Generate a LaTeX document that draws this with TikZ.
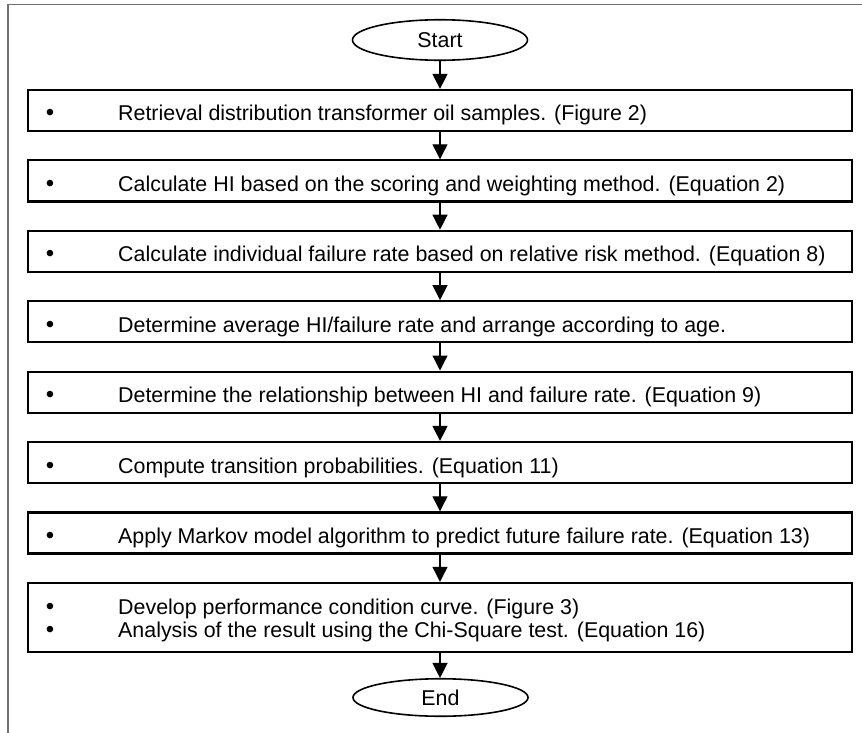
\documentclass[tikz,border=0pt]{standalone}
\usepackage{fontspec}
\setmainfont{Liberation Sans}
\usetikzlibrary{arrows.meta,shapes.geometric}
\definecolor{framegray}{RGB}{112,112,112}
\begin{document}
\begin{tikzpicture}[x=1pt,y=-1pt,
  stepbox/.style={draw, line width=2.2pt, minimum width=824pt, minimum height=41pt, inner sep=0pt},
  terminal/.style={draw, ellipse, line width=1.6pt, minimum width=175pt, inner sep=0pt, font=\fontsize{21.4}{23}\selectfont},
  flow/.style={line width=1.2pt, -{Triangle[length=15pt,width=15pt]}},
  txt/.style={anchor=base west, inner sep=0pt, font=\fontsize{21.4}{23}\selectfont},
  bul/.style={anchor=base, inner sep=0pt, font=\fontsize{24}{23}\selectfont}]
\useasboundingbox (0,0) rectangle (862,733);
% outer frame (top and left edges only)
\draw[framegray, line width=1.3pt] (8,733) -- (8,4.5) -- (862,4.5);
% terminals
\node[terminal, minimum height=40.5pt] (start) at (440,40) {Start};
\node[terminal, minimum height=37.5pt] (end) at (440.5,697.5) {End};
% step boxes
\node[stepbox] (b1) at (440,110.5) {};
\node[stepbox] (b2) at (440,180.9) {};
\node[stepbox] (b3) at (440,251.3) {};
\node[stepbox] (b4) at (440,321.7) {};
\node[stepbox] (b5) at (440,392.1) {};
\node[stepbox] (b6) at (440,462.5) {};
\node[stepbox] (b7) at (440,532.9) {};
\node[stepbox, minimum height=69pt] (b8) at (440,617.4) {};
% bullets and texts
\node[bul] (u1) at (50,121) {•};
\node[txt] (t1) at (118,121) {Retrieval distribution transformer oil samples. (Figure 2)};
\node[bul] (u2) at (50,191.4) {•};
\node[txt] (t2) at (118,191.4) {Calculate HI based on the scoring and weighting method. (Equation 2)};
\node[bul] (u3) at (50,261.8) {•};
\node[txt] (t3) at (118,261.8) {Calculate individual failure rate based on relative risk method. (Equation 8)};
\node[bul] (u4) at (50,332.2) {•};
\node[txt] (t4) at (118,332.2) {Determine average HI/failure rate and arrange according to age.};
\node[bul] (u5) at (50,402.6) {•};
\node[txt] (t5) at (118,402.6) {Determine the relationship between HI and failure rate. (Equation 9)};
\node[bul] (u6) at (50,473) {•};
\node[txt] (t6) at (118,473) {Compute transition probabilities. (Equation 11)};
\node[bul] (u7) at (50,543.4) {•};
\node[txt] (t7) at (118,543.4) {Apply Markov model algorithm to predict future failure rate. (Equation 13)};
\node[bul] (u8a) at (50,614) {•};
\node[txt] (t8a) at (118,614) {Develop performance condition curve. (Figure 3)};
\node[bul] (u8b) at (50,637) {•};
\node[txt] (t8b) at (118,637) {Analysis of the result using the Chi-Square test. (Equation 16)};
% connectors
\draw[flow] (start) -- (b1);
\draw[flow] (b1) -- (b2);
\draw[flow] (b2) -- (b3);
\draw[flow] (b3) -- (b4);
\draw[flow] (b4) -- (b5);
\draw[flow] (b5) -- (b6);
\draw[flow] (b6) -- (b7);
\draw[flow] (b7) -- (b8);
\draw[flow] (b8.south) -- (b8.south |- end.north);
\end{tikzpicture}
\end{document}
